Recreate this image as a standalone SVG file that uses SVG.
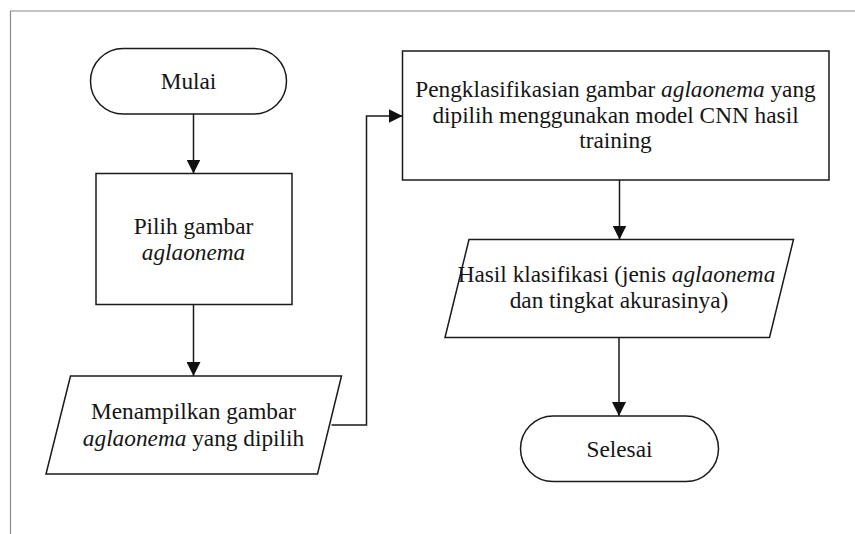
<svg xmlns="http://www.w3.org/2000/svg" width="855" height="534" viewBox="0 0 855 534">
<style>
.shape{fill:#fff;stroke:#1a1a1a;stroke-width:1.5}
.conn{fill:none;stroke:#1a1a1a;stroke-width:1.5}
.t{font-family:"Liberation Serif","Times New Roman",serif;font-size:23.3px;fill:#151515;text-anchor:middle}
.it{font-style:italic}
</style>
<defs>
<marker id="arr" markerUnits="userSpaceOnUse" markerWidth="15" markerHeight="14" refX="14" refY="7" orient="auto">
<path d="M0,0 L14,7 L0,14 z" fill="#111"/>
</marker>
</defs>
<rect width="855" height="534" fill="#fff"/>
<path d="M10.5,534 V11 H855" fill="none" stroke="#8a8a8a" stroke-width="1.2"/>
<g id="connectors">
<line class="conn" x1="193.5" y1="114" x2="193.5" y2="173.5" marker-end="url(#arr)"/>
<line class="conn" x1="193.5" y1="304.5" x2="193.5" y2="376" marker-end="url(#arr)"/>
<polyline class="conn" points="331.5,425 366.5,425 366.5,116 402.5,116" marker-end="url(#arr)"/>
<line class="conn" x1="619.5" y1="180" x2="619.5" y2="239.5" marker-end="url(#arr)"/>
<line class="conn" x1="619" y1="337.5" x2="619" y2="416" marker-end="url(#arr)"/>
</g>
<g id="mulai">
<rect class="shape" x="90.5" y="48.5" width="196" height="65.5" rx="32.75" ry="32.75"/>
<text class="t" x="188.5" y="89">Mulai</text>
</g>
<g id="pilih">
<rect class="shape" x="96" y="173.5" width="196" height="131"/>
<text class="t" x="193.5" y="234">Pilih gambar</text>
<text class="t it" x="193.5" y="260">aglaonema</text>
</g>
<g id="menampilkan">
<polygon class="shape" points="70.5,376 341.5,376 317.5,474 46,474"/>
<text class="t" x="193.5" y="419">Menampilkan gambar</text>
<text class="t" x="193.5" y="446"><tspan class="it">aglaonema</tspan> yang dipilih</text>
</g>
<g id="pengklasifikasian">
<rect class="shape" x="402.5" y="51" width="426.5" height="129"/>
<text class="t" x="615.5" y="96.5">Pengklasifikasian gambar <tspan class="it">aglaonema</tspan> yang</text>
<text class="t" x="615.5" y="122.5">dipilih menggunakan model CNN hasil</text>
<text class="t" x="615.5" y="148">training</text>
</g>
<g id="hasil">
<polygon class="shape" points="469,239.5 793.5,239.5 769.5,337.5 445,337.5"/>
<text class="t" x="616.5" y="281.5">Hasil klasifikasi (jenis <tspan class="it">aglaonema</tspan></text>
<text class="t" x="619" y="308">dan tingkat akurasinya)</text>
</g>
<g id="selesai">
<rect class="shape" x="520.5" y="416" width="198" height="65.5" rx="32.75" ry="32.75"/>
<text class="t" x="619.5" y="456.5">Selesai</text>
</g>
</svg>
